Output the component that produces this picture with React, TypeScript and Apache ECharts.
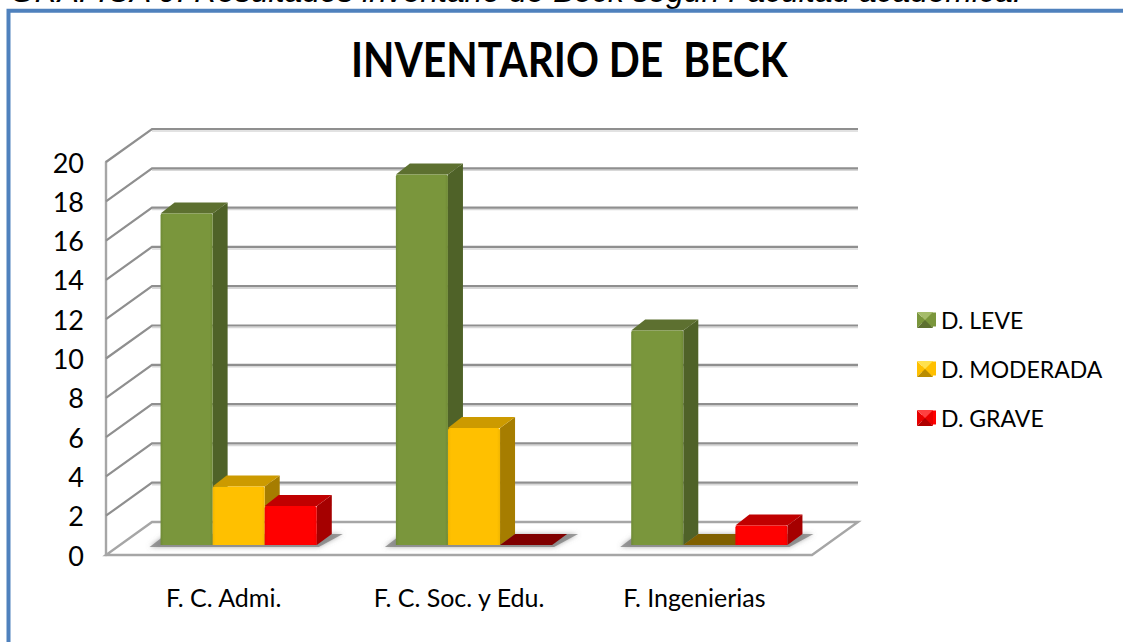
import React, { useEffect, useRef } from "react";
import * as echarts from "echarts";

const categories = ["F. C. Admi.", "F. C. Soc. y Edu.", "F. Ingenierias"];
const leve = [17, 19, 11];
const moderada = [3, 6, 0];
const grave = [2, 0, 1];
const ticks = [0, 2, 4, 6, 8, 10, 12, 14, 16, 18, 20];
const seriesNames = ["D. LEVE", "D. MODERADA", "D. GRAVE"];
const caption = "GRAFICA 9: Resultados inventario de Beck según Facultad académica.";
const chartTitle = "INVENTARIO DE  BECK";

const FONT = "Lato, 'Liberation Sans', sans-serif";
const DX = 15, DY = -11, WALL_DX = 46, WALL_DY = -33;

const faces = [
  { front: "#7a963c", edge: "#6f8a36", top: "#5d7030", side: "#4f6228", flat: "#4f6228" },
  { front: "#ffc000", edge: "#f2b600", top: "#cc9a00", side: "#a67d00", flat: "#806000" },
  { front: "#ff0000", edge: "#f00000", top: "#c00000", side: "#a50000", flat: "#800000" },
];

function wallItem(params: any, api: any) {
  const v = api.value(0);
  const y = api.coord([0, v])[1];
  const cs = params.coordSys;
  const x0 = cs.x;
  const x1 = cs.x + cs.width;
  const children: any[] = [];
  if (v === 0) {
    children.push({
      type: "polygon",
      shape: { points: [[x0, y], [x1, y], [x1 + WALL_DX, y + WALL_DY], [x0 + WALL_DX, y + WALL_DY]] },
      style: { fill: "#ffffff", stroke: "#a6a6a6", lineWidth: 2.4 },
    });
  } else {
    children.push({
      type: "polyline",
      shape: { points: [[x0 + WALL_DX, y + WALL_DY + 2], [x1 + WALL_DX, y + WALL_DY + 2]] },
      style: { fill: "none", stroke: "#d8d8d8", lineWidth: 1.5 },
    });
    children.push({
      type: "polyline",
      shape: { points: [[x0, y], [x0 + WALL_DX, y + WALL_DY], [x1 + WALL_DX, y + WALL_DY]] },
      style: { fill: "none", stroke: "#8f8f8f", lineWidth: 2.2 },
    });
  }
  return { type: "group", children };
}

function barItem(sIdx: number) {
  return (params: any, api: any) => {
    const cat = api.value(0);
    const val = api.value(1);
    const band = api.size([1, 0])[0];
    const w = band * 0.2213;
    const cx = api.coord([cat, 0])[0];
    const x = cx - 1.5 * w + sIdx * w;
    const base = api.coord([cat, 0])[1];
    const top = api.coord([cat, val])[1];
    const c = faces[sIdx];
    if (val === 0) {
      return {
        type: "polygon",
        shape: { points: [[x, base], [x + w, base], [x + w + DX, base + DY], [x + DX, base + DY]] },
        style: { fill: c.flat },
      };
    }
    return {
      type: "group",
      children: [
        {
          type: "polygon",
          shape: { points: [[x + w, top], [x + w + DX, top + DY], [x + w + DX, base + DY], [x + w, base]] },
          style: { fill: c.side },
        },
        {
          type: "polygon",
          shape: { points: [[x, top], [x + DX - 1, top + DY], [x + w + DX, top + DY], [x + w, top]] },
          style: { fill: c.top },
        },
        {
          type: "rect",
          shape: { x, y: top, width: w, height: base - top, r: [2, 2, 0, 0] },
          style: {
            fill: {
              type: "linear", x: 0, y: 0, x2: 1, y2: 0,
              colorStops: [
                { offset: 0, color: c.edge },
                { offset: 0.06, color: c.front },
                { offset: 0.94, color: c.front },
                { offset: 1, color: c.edge },
              ],
            },
          },
        },
      ],
    };
  };
}

function shadowItem(params: any, api: any) {
  const cat = api.value(0);
  const band = api.size([1, 0])[0];
  const w = band * 0.2213;
  const cx = api.coord([cat, 0])[0];
  const base = api.coord([cat, 0])[1];
  const xl = cx - 1.5 * w;
  const xr = cx + 1.5 * w;
  return {
    type: "polygon",
    shape: { points: [[xl - 11, base + 2], [xr + 2, base + 2], [xr + 26, base - 11], [xl + 6, base - 11]] },
    style: { fill: "rgba(120,120,120,0.7)", shadowBlur: 5, shadowColor: "rgba(120,120,120,0.85)" },
  };
}

function bevel(x: number, y: number, s: number, light: string, dark: string, edge: string) {
  const xe = x + s, ye = y + s, mx = x + s / 2, my = y + s / 2;
  const mk = (points: number[][], fill: string) => ({ type: "polygon", z: 20, shape: { points }, style: { fill } });
  return [
    mk([[x, y], [x, ye], [mx, my]], edge),
    mk([[xe, y], [xe, ye], [mx, my]], edge),
    mk([[x, y], [xe, y], [mx, my]], light),
    mk([[x, ye], [xe, ye], [mx, my]], dark),
  ];
}

export default function App() {
  const ref = useRef<HTMLDivElement>(null);
  useEffect(() => {
    const chart = echarts.init(ref.current!, undefined, { renderer: "svg" });
    const barSeries = [leve, moderada, grave].map((vals, i) => ({
      type: "custom" as const,
      name: seriesNames[i],
      xAxisIndex: 1,
      yAxisIndex: 1,
      z: 5,
      itemStyle: { color: faces[i].front },
      renderItem: barItem(i),
      encode: { x: 0, y: 1 },
      data: vals.map((v, c) => [c, v]),
    }));
    chart.setOption({
      animation: false,
      backgroundColor: "#ffffff",
      grid: [
        { left: 106, width: 706, top: 162, height: 393 },
        { left: 121, width: 706, top: 155, height: 390 },
      ],
      xAxis: [
        {
          type: "category",
          gridIndex: 0,
          data: categories,
          axisLine: { show: false },
          axisTick: { show: false },
          axisLabel: { fontFamily: FONT, fontSize: 25, color: "#000", margin: 29 },
        },
        { type: "category", gridIndex: 1, data: categories, show: false },
      ],
      yAxis: [
        {
          type: "value",
          gridIndex: 0,
          min: 0,
          max: 20,
          interval: 2,
          splitLine: { show: false },
          axisLine: { show: true, lineStyle: { color: "#a6a6a6", width: 2.4 } },
          axisTick: { show: false },
          axisLabel: { fontFamily: FONT, fontSize: 27, color: "#000", margin: 22, padding: [6, 0, 0, 0] },
        },
        { type: "value", gridIndex: 1, min: 0, max: 20, interval: 2, show: false },
      ],
      legend: {
        orient: "vertical",
        left: 917,
        top: 303,
        itemWidth: 14,
        itemHeight: 14,
        itemGap: 26,
        icon: "rect",
        data: seriesNames,
        selectedMode: false,
        textStyle: { fontFamily: FONT, fontSize: 23, color: "#000" },
      },
      graphic: {
        elements: [
          {
            type: "text",
            x: 10,
            y: -25,
            style: {
              text: caption,
              font: "italic 31.8px 'Liberation Sans', Arial, sans-serif",
              fill: "#000",
            },
          },
          {
            type: "rect",
            shape: { x: 8.5, y: 10.8, width: 1200, height: 800 },
            style: { fill: "none", stroke: "#4f81bd", lineWidth: 4 },
            z: 10,
          },
          {
            type: "text",
            x: 351,
            y: 34,
            scaleX: 0.85,
            style: { text: chartTitle, font: "bold 48px " + FONT, fill: "#000" },
          },
          {
            type: "group",
            children: [
              ...bevel(917, 312, 16, "#a5bc6a", "#5d7030", "#7a963c"),
              ...bevel(917, 361, 16, "#ffe14d", "#b98c00", "#ffc000"),
              ...bevel(917, 410, 16, "#ff4040", "#b00000", "#e80000"),
            ],
          },
        ],
      },
      series: [
        {
          type: "custom",
          xAxisIndex: 0,
          yAxisIndex: 0,
          z: 1,
          silent: true,
          renderItem: wallItem,
          encode: { y: 0 },
          data: ticks.map((t) => [t]),
        },
        {
          type: "custom",
          xAxisIndex: 1,
          yAxisIndex: 1,
          z: 2,
          silent: true,
          renderItem: shadowItem,
          encode: { x: 0 },
          data: categories.map((_, c) => [c]),
        },
        ...barSeries,
      ],
    });
    return () => chart.dispose();
  }, []);
  return <div ref={ref} style={{ position: "fixed", left: 0, top: 0, width: 1123, height: 642 }} />;
}
